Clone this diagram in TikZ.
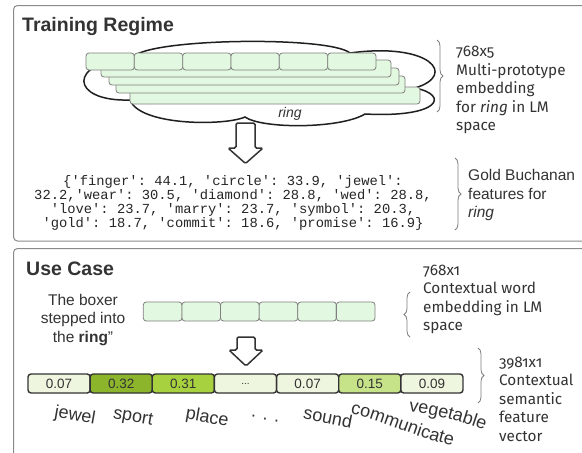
\documentclass[tikz,border=0pt]{standalone}
\usepackage{fontspec}
\setmainfont{Liberation Sans}
\setmonofont{Liberation Mono}
\newfontfamily\labfont{Fira Sans}[Numbers=OldStyle]
\usetikzlibrary{decorations.pathreplacing,decorations.text}
\definecolor{mint}{HTML}{E2F8E0}
\definecolor{mintline}{HTML}{7F7F7F}
\definecolor{txt}{HTML}{333333}
\definecolor{panelline}{HTML}{8A8A8A}
\definecolor{fa}{HTML}{EFF6E0}
\definecolor{fb}{HTML}{8CB52B}
\definecolor{fc}{HTML}{A8D13F}
\definecolor{fd}{HTML}{C6E38A}
\definecolor{fe}{HTML}{EEF6DF}
\def\myell{{\fontsize{10}{10}\selectfont...}}
\begin{document}
\begin{tikzpicture}[x=1pt,y=-1pt,
  panel/.style={draw=panelline,line width=1,rounded corners=4},
  title/.style={font=\bfseries\fontsize{19.5}{20}\selectfont,text=txt,anchor=base west,inner sep=0},
  cellA/.style={draw=mintline,fill=mint,line width=0.8,rounded corners=3,inner sep=0},
  featcell/.style={draw=txt,line width=1.4,rounded corners=3,inner sep=0,minimum width=62.14,minimum height=19,font=\fontsize{13.5}{14}\selectfont,text=txt},
  cloudline/.style={draw=black!88,line width=1.5,fill=white},
  blockarrow/.style={draw=txt,line width=1.5,fill=white,rounded corners=1.5},
  bracestyle/.style={draw=mintline,line width=0.8,decorate,decoration={brace,amplitude=6}},
  lab/.style={font=\labfont\fontsize{15.3}{18.5}\selectfont,text=txt,align=left,anchor=west,inner sep=0},
  sanslab/.style={font=\fontsize{15.5}{18.5}\selectfont,text=txt,inner sep=0},
  word/.style={font=\fontsize{18}{18}\selectfont,text=txt,inner sep=0}
]
\useasboundingbox (0,0) rectangle (582,453);
\clip (0,0) rectangle (582,453);
\fill[white] (0,0) rectangle (582,453);

% panels
\draw[panel] (13.5,5.5) rectangle (620,241);
\draw[panel] (13.5,248.5) rectangle (620,480);
\node[title] (t1) at (22,31) {Training Regime};
\node[title] (t2) at (26,275) {Use Case};

% cloud
\draw[cloudline] (133,57) .. controls (150,38) and (330,36) .. (350,53)
  .. controls (430,42) and (458,75) .. (415,88)
  .. controls (450,95) and (440,118) .. (365,114)
  .. controls (340,129) and (262,129) .. (245,117)
  .. controls (225,126) and (140,126) .. (130,100)
  .. controls (70,102) and (66,62) .. (133,57) -- cycle;
\node[font=\itshape\fontsize{14}{14}\selectfont,text=txt,inner sep=0] (ringlab) at (290,113.5) {ring};

% stacked prototype bars
\node[cellA,minimum width=290,minimum height=17] (b5) at (275,95.5) {};
\node[cellA,minimum width=289,minimum height=17] (b4) at (260.5,84.5) {};
\node[cellA,minimum width=290,minimum height=17] (b3) at (254,76.5) {};
\node[cellA,minimum width=290,minimum height=17] (b2) at (246,68.5) {};
\foreach \i in {0,...,5}
  \node[cellA,minimum width=48.33,minimum height=17] (f\i) at ({110.17+48.33*\i},61.5) {};

% brace + label 1
\coordinate (br1a) at (437,40);
\coordinate (br1b) at (437,112);
\draw[bracestyle] (br1a) -- (br1b);
\node[lab] (lab1) at (456,90) {768x5\\Multi-prototype\\embedding\\for \textit{ring} in LM\\space};

% arrow 1
\coordinate (a1) at (245.5,123);
\draw[blockarrow] (236,123) -- (236,148) -- (228,148) -- (245.5,163.5) -- (263,148) -- (255,148) -- (255,123) -- cycle;

% gold features
\node[font=\ttfamily\fontsize{13.8}{14}\selectfont,text=black!85,align=center,inner sep=0] (gold) at (233,203)
{\{'finger': 44.1, 'circle': 33.9, 'jewel':\\32.2,'wear': 30.5, 'diamond': 28.8, 'wed': 28.8,\\'love': 23.7, 'marry': 23.7, 'symbol': 20.3,\\'gold': 18.7, 'commit': 18.6, 'promise': 16.9\}};

\coordinate (br2a) at (455,158);
\coordinate (br2b) at (455,230);
\draw[bracestyle] (br2a) -- (br2b);
\node[sanslab,align=left,anchor=west] (lab2) at (468,195) {Gold Buchanan\\features for\\\textit{ring}};

% use case
\node[sanslab,align=center] (sent) at (83,320) {The boxer\\stepped into\\the \textbf{ring}\char"22};
\foreach \i in {0,...,5}
  \node[cellA,minimum width=38.62,minimum height=19] (u\i) at ({162.6+38.62*\i},311.5) {};

\coordinate (br3a) at (410,337);
\coordinate (br3b) at (410,292);
\draw[bracestyle] (br3a) -- (br3b);
\node[lab] (lab3) at (423,299.5) {768x1\\Contextual word\\embedding in LM\\space};

% arrow 2
\coordinate (a2) at (246,337);
\draw[blockarrow] (237,337) -- (237,350) -- (229,350) -- (246,366) -- (263,350) -- (255,350) -- (255,337) -- cycle;

% feature vector
\foreach \v/\c [count=\i from 0] in {0.07/fa,0.32/fb,0.31/fc,\myell/fa,0.07/fa,0.15/fd,0.09/fe}
  \node[featcell,fill=\c] (v\i) at ({59.07+62.14*\i},383.5) {\v};

\coordinate (br4a) at (478,348);
\coordinate (br4b) at (478,403);
\draw[bracestyle] (br4a) -- (br4b);
\node[lab] (lab4) at (499,399) {3981x1\\Contextual\\semantic\\feature\\vector};

% feature words
\node[word,rotate=-10] (w1) at (75,416) {jewel};
\node[word,rotate=-10] (w2) at (133,418) {sport};
\node[word,rotate=-10] (w3) at (207,418) {place};
\node[word,rotate=-12] (w4) at (265,419) {. . .};
\node[word,rotate=-11] (w5) at (328,417) {sound};
\path[decorate,decoration={text along path,text align=center,
  text={|\fontsize{18}{18}\selectfont\color{txt}|communicate}}]
  (347,413) .. controls (375,417) and (420,440) .. (456,446);
\path[decorate,decoration={text along path,text align=center,
  text={|\fontsize{18}{18}\selectfont\color{txt}|vegetable}}]
  (406,411) .. controls (435,414) and (460,421) .. (487,431);
\end{tikzpicture}
\end{document}
